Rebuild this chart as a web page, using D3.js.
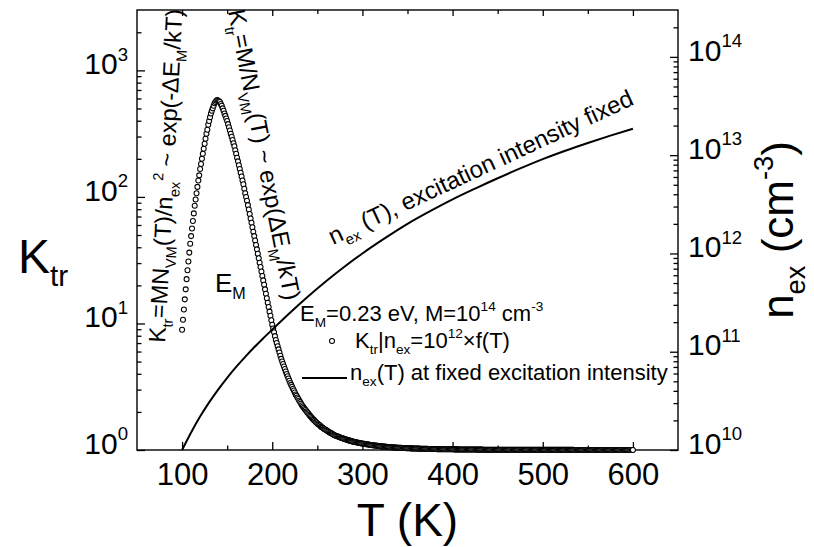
<!DOCTYPE html>
<html lang="en">
<head>
<meta charset="UTF-8">
<style>
  body { margin: 0; background: #fff; }
  svg { display: block; font-family: "Liberation Sans", Arial, sans-serif; }
</style>
<script src="https://d3js.org/d3.v7.min.js"></script>
</head>
<body>
<div id="chart"></div>
<script>
const ktrT = d3.range(100, 601);
const ktrVal = [
  8.91, 10.7, 12.9, 15.5, 18.6, 22.4, 26.3, 30.9, 36.3, 42.7,
  49.0, 56.2, 64.6, 74.1, 85.1, 95.5, 107, 120, 135, 148,
  166, 182, 200, 219, 240, 263, 288, 316, 339, 372,
  398, 427, 457, 479, 501, 525, 550, 562, 575, 582,
  575, 571, 562, 543, 525, 501, 479, 457, 437, 417,
  398, 376, 355, 335, 316, 299, 282, 266, 251, 234,
  219, 204, 191, 178, 166, 155, 145, 135, 126, 116,
  107, 100, 93.3, 86.1, 79.4, 73.3, 67.6, 62.4, 57.5, 53.1,
  49.0, 45.2, 41.7, 38.5, 35.5, 32.7, 30.2, 27.9, 25.7, 23.7,
  21.9, 20.2, 18.6, 17.2, 15.8, 14.6, 13.5, 12.4, 11.5, 10.6,
  9.77, 9.12, 8.51, 7.94, 7.41, 7.00, 6.61, 6.24, 5.89, 5.56,
  5.25, 5.01, 4.79, 4.57, 4.37, 4.17, 3.98, 3.83, 3.67, 3.53,
  3.39, 3.27, 3.16, 3.05, 2.95, 2.85, 2.75, 2.68, 2.60, 2.53,
  2.45, 2.39, 2.32, 2.26, 2.21, 2.16, 2.11, 2.07, 2.02, 1.98,
  1.94, 1.90, 1.86, 1.83, 1.79, 1.76, 1.73, 1.70, 1.67, 1.65,
  1.62, 1.60, 1.58, 1.56, 1.53, 1.51, 1.50, 1.48, 1.46, 1.45,
  1.43, 1.42, 1.40, 1.39, 1.37, 1.36, 1.35, 1.34, 1.32, 1.31,
  1.30, 1.29, 1.285, 1.276, 1.268, 1.259, 1.250, 1.245, 1.236, 1.230,
  1.222, 1.216, 1.211, 1.202, 1.197, 1.191, 1.186, 1.180, 1.175, 1.169,
  1.164, 1.159, 1.156, 1.151, 1.148, 1.143, 1.140, 1.135, 1.132, 1.127,
  1.125, 1.122, 1.119, 1.115, 1.112, 1.109, 1.106, 1.103, 1.100, 1.097,
  1.094, 1.092, 1.090, 1.087, 1.085, 1.083, 1.081, 1.078, 1.076, 1.074,
  1.072, 1.070, 1.068, 1.066, 1.065, 1.063, 1.061, 1.059, 1.058, 1.056,
  1.054, 1.053, 1.052, 1.050, 1.049, 1.048, 1.047, 1.046, 1.045, 1.043,
  1.042, 1.041, 1.040, 1.039, 1.038, 1.037, 1.037, 1.036, 1.035, 1.034,
  1.033, 1.032, 1.032, 1.031, 1.030, 1.030, 1.029, 1.028, 1.028, 1.027,
  1.027, 1.026, 1.025, 1.025, 1.024, 1.024, 1.023, 1.023, 1.022, 1.022,
  1.021, 1.021, 1.021, 1.020, 1.020, 1.019, 1.019, 1.019, 1.018, 1.018,
  1.017, 1.017, 1.017, 1.016, 1.016, 1.016, 1.015, 1.015, 1.015, 1.015,
  1.014, 1.014, 1.014, 1.013, 1.013, 1.013, 1.013, 1.012, 1.012, 1.012,
  1.012, 1.012, 1.011, 1.011, 1.011, 1.011, 1.011, 1.010, 1.010, 1.010,
  1.010, 1.010, 1.010, 1.009, 1.009, 1.009, 1.009, 1.009, 1.009, 1.008,
  1.008, 1.008, 1.008, 1.008, 1.008, 1.008, 1.007, 1.007, 1.007, 1.007,
  1.007, 1.007, 1.007, 1.007, 1.006, 1.006, 1.006, 1.006, 1.006, 1.006,
  1.006, 1.006, 1.006, 1.006, 1.005, 1.005, 1.005, 1.005, 1.005, 1.005,
  1.005, 1.005, 1.005, 1.005, 1.005, 1.004, 1.004, 1.004, 1.004, 1.004,
  1.004, 1.004, 1.004, 1.004, 1.004, 1.004, 1.004, 1.004, 1.003, 1.003,
  1.003, 1.003, 1.003, 1.003, 1.003, 1.003, 1.003, 1.003, 1.003, 1.003,
  1.003, 1.003, 1.003, 1.003, 1.003, 1.003, 1.003, 1.003, 1.003, 1.003,
  1.003, 1.003, 1.003, 1.003, 1.003, 1.002, 1.002, 1.002, 1.002, 1.002,
  1.002, 1.002, 1.002, 1.002, 1.002, 1.002, 1.002, 1.002, 1.002, 1.002,
  1.002, 1.002, 1.002, 1.002, 1.002, 1.002, 1.002, 1.002, 1.002, 1.002,
  1.002, 1.002, 1.002, 1.002, 1.002, 1.002, 1.002, 1.002, 1.002, 1.002,
  1.002, 1.002, 1.002, 1.002, 1.002, 1.001, 1.001, 1.001, 1.001, 1.001,
  1.001, 1.001, 1.001, 1.001, 1.001, 1.001, 1.001, 1.001, 1.001, 1.001,
  1.001, 1.001, 1.001, 1.001, 1.001, 1.001, 1.001, 1.001, 1.001, 1.001,
  1.001, 1.001, 1.001, 1.001, 1.001, 1.001, 1.001, 1.001, 1.001, 1.001,
  1.001, 1.001, 1.001, 1.001, 1.001, 1.001, 1.001, 1.001, 1.001, 1.001,
  1.001, 1.001, 1.001, 1.001, 1.001, 1.001, 1.001, 1.001, 1.001, 1.001,
  1.001, 1.001, 1.001, 1.001, 1.001, 1.001, 1.001, 1.001, 1.001, 1.001,
  1.000
];

// n_ex(T) at fixed excitation intensity (solid line, right axis)
const nexT = [100, 110, 120, 130, 140, 150, 160, 170, 180, 190, 200, 220, 240, 260,
  280, 300, 325, 350, 375, 400, 425, 450, 475, 500, 525, 550, 575, 600];
const nexVal = [1.00e10, 1.51e10, 2.19e10, 3.05e10, 4.12e10, 5.43e10, 7.00e10, 8.87e10,
  1.11e11, 1.37e11, 1.68e11, 2.51e11, 3.67e11, 5.25e11, 7.33e11, 1.00e12, 1.43e12,
  2.00e12, 2.69e12, 3.55e12, 4.57e12, 5.82e12, 7.33e12, 9.12e12, 1.11e13, 1.33e13,
  1.58e13, 1.86e13];

const xTicks = [100, 200, 300, 400, 500, 600];
const xMinorTicks = [150, 250, 350, 450, 550];
const kTicks = [1, 10, 100, 1000];
const kTickExp = ["0", "1", "2", "3"];
const nTicks = [1e10, 1e11, 1e12, 1e13, 1e14];
const nTickExp = ["10", "11", "12", "13", "14"];

const W = 814, H = 547;
const margin = { top: 10, right: 136, bottom: 97, left: 137 };
const w = W - margin.left - margin.right;
const h = H - margin.top - margin.bottom;

const svg = d3.select("#chart").append("svg")
  .attr("width", W).attr("height", H);
const g = svg.append("g")
  .attr("transform", "translate(" + margin.left + "," + margin.top + ")");

const x = d3.scaleLinear().domain([50, 650]).range([0, w]);
const yK = d3.scaleLog().domain([1, 3000]).range([h, 0]);
const yN = d3.scaleLog().domain([1e10, 3e14]).range([h, 0]);

// minor log ticks 2..9 per decade
function logMinor(lo, hi) {
  const out = [];
  for (let d = lo; d < hi; d *= 10)
    for (let m = 2; m <= 9; m++) if (m * d < hi) out.push(m * d);
  return out;
}

// text with sub/superscripts: parts = [[str, "sub"|"sup"|undefined], ...]
function rich(sel, parts, fs) {
  let shift = 0;
  parts.forEach(function (p) {
    const kind = p[1];
    const target = kind === "sub" ? fs * 0.28 : kind === "sup" ? -fs * 0.45 : 0;
    const t = sel.append("tspan")
      .attr("font-size", kind ? fs * 0.62 : fs)
      .text(p[0]);
    if (target - shift !== 0) t.attr("dy", target - shift);
    shift = target;
  });
}

function styleAxis(a) {
  a.select(".domain").remove();
  a.selectAll(".tick line").attr("stroke", "#000").attr("stroke-width", 1.3);
}

// bottom axis
g.append("g").attr("transform", "translate(0," + h + ")")
  .call(d3.axisBottom(x).tickValues(xTicks).tickSize(-8).tickPadding(13).tickSizeOuter(0))
  .call(styleAxis)
  .call(a => a.selectAll(".tick text").attr("font-size", 31).attr("fill", "#000"));
g.append("g").attr("transform", "translate(0," + h + ")")
  .call(d3.axisBottom(x).tickValues(xMinorTicks).tickSize(-4.5).tickFormat("").tickSizeOuter(0))
  .call(styleAxis);
// top axis (mirrored ticks)
g.append("g")
  .call(d3.axisTop(x).tickValues(xTicks).tickSize(-6).tickFormat("").tickSizeOuter(0))
  .call(styleAxis);
g.append("g")
  .call(d3.axisTop(x).tickValues(xMinorTicks).tickSize(-4).tickFormat("").tickSizeOuter(0))
  .call(styleAxis);

// left axis
g.append("g")
  .call(d3.axisLeft(yK).tickValues(kTicks).tickSize(-8).tickPadding(9).tickSizeOuter(0))
  .call(styleAxis)
  .call(a => a.selectAll(".tick text").attr("fill", "#000").each(function (d, i) {
    const t = d3.select(this).text(null);
    rich(t, [["10"], [kTickExp[i], "sup"]], 30);
  }));
g.append("g")
  .call(d3.axisLeft(yK).tickValues(logMinor(1, 3000)).tickSize(-4.5).tickFormat("").tickSizeOuter(0))
  .call(styleAxis);

// right axis
g.append("g").attr("transform", "translate(" + w + ",0)")
  .call(d3.axisRight(yN).tickValues(nTicks).tickSize(-8).tickPadding(10).tickSizeOuter(0))
  .call(styleAxis)
  .call(a => a.selectAll(".tick text").attr("fill", "#000").each(function (d, i) {
    const t = d3.select(this).text(null);
    rich(t, [["10"], [nTickExp[i], "sup"]], 30);
  }));
g.append("g").attr("transform", "translate(" + w + ",0)")
  .call(d3.axisRight(yN).tickValues(logMinor(1e10, 3e14)).tickSize(-4.5).tickFormat("").tickSizeOuter(0))
  .call(styleAxis);

// frame
g.append("rect").attr("width", w).attr("height", h)
  .attr("fill", "none").attr("stroke", "#000").attr("stroke-width", 1.4);

// K_tr open circles
g.selectAll(".dot").data(ktrT).enter().append("circle")
  .attr("class", "dot")
  .attr("cx", d => x(d))
  .attr("cy", (d, i) => yK(ktrVal[i]))
  .attr("r", 2.5)
  .attr("fill", "#fff")
  .attr("stroke", "#000")
  .attr("stroke-width", 1.05);

// n_ex line
const line = d3.line()
  .x(d => x(d[0]))
  .y(d => yN(d[1]))
  .curve(d3.curveMonotoneX);
g.append("path")
  .datum(nexT.map((t, i) => [t, nexVal[i]]))
  .attr("d", line)
  .attr("fill", "none")
  .attr("stroke", "#000")
  .attr("stroke-width", 2);

// axis titles
const kt = svg.append("text").attr("x", 18).attr("y", 273);
rich(kt, [["K"], ["tr", "sub"]], 48);

svg.append("text").attr("x", margin.left + w / 2).attr("y", 536)
  .attr("text-anchor", "middle").attr("font-size", 46).text("T (K)");

const nt = svg.append("text").attr("text-anchor", "middle")
  .attr("transform", "translate(793," + (margin.top + h / 2) + ") rotate(-90)");
rich(nt, [["n"], ["ex", "sub"], [" (cm"], ["-3", "sup"], [")"]], 44);

// annotations
const a1 = svg.append("text").attr("transform", "translate(165,343) rotate(-87)");
rich(a1, [["K"], ["tr", "sub"], ["=MN"], ["VM", "sub"], ["(T)/n"], ["ex", "sub"], ["2", "sup"],
  [" ~ exp(-\u0394E"], ["M", "sub"], ["/kT)"]], 23.5);

const a2 = svg.append("text").attr("transform", "translate(228,11) rotate(79)");
rich(a2, [["K"], ["tr", "sub"], ["=M/N"], ["VM", "sub"], ["(T) ~ exp(\u0394E"], ["M", "sub"], ["/kT)"]], 24);

const a3 = svg.append("text").attr("x", 215).attr("y", 292);
rich(a3, [["E"], ["M", "sub"]], 26);

const a4 = svg.append("text").attr("transform", "translate(333,245) rotate(-25)");
rich(a4, [["n"], ["ex", "sub"], [" (T), excitation intensity fixed"]], 24);

const a5 = svg.append("text").attr("x", 300).attr("y", 321);
rich(a5, [["E"], ["M", "sub"], ["=0.23 eV, M=10"], ["14", "sup"], [" cm"], ["-3", "sup"]], 22);

// legend
svg.append("circle").attr("cx", 332).attr("cy", 341).attr("r", 2.5)
  .attr("fill", "#fff").attr("stroke", "#000").attr("stroke-width", 1.05);
const l1 = svg.append("text").attr("x", 355).attr("y", 348);
rich(l1, [["K"], ["tr", "sub"], ["|n"], ["ex", "sub"], ["=10"], ["12", "sup"], ["\u00d7f(T)"]], 22);

svg.append("line").attr("x1", 302).attr("x2", 347).attr("y1", 378).attr("y2", 378)
  .attr("stroke", "#000").attr("stroke-width", 2);
const l2 = svg.append("text").attr("x", 350).attr("y", 380);
rich(l2, [["n"], ["ex", "sub"], ["(T) at fixed excitation intensity"]], 22);
</script>
</body>
</html>
